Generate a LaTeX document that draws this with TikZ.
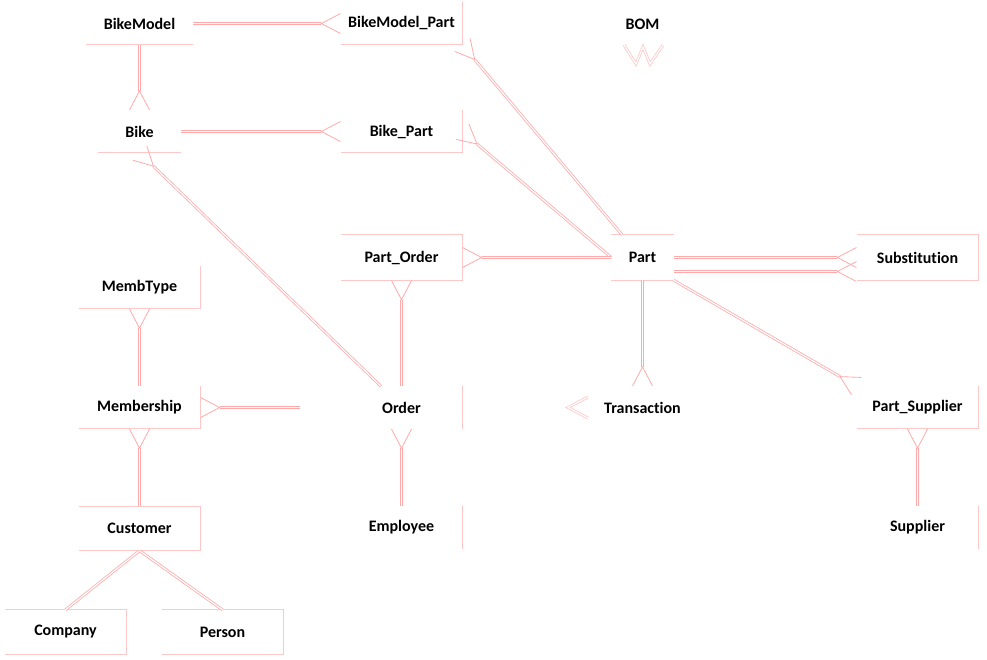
\documentclass[tikz,border=0pt]{standalone}
\usepackage{fontspec}
\setmainfont[Ligatures=NoCommon]{Carlito}
\usetikzlibrary{arrows.meta}
\definecolor{pinkline}{RGB}{255,170,170}
\definecolor{pinkrim}{RGB}{255,200,200}
\tikzset{
  ent/.style={minimum width=121pt, minimum height=42pt, inner sep=0pt,
    font=\bfseries\fontsize{16}{19}\selectfont},
  rim/.style={draw=pinkrim, line width=0.8pt},
  rel/.style={draw=pinkline, double=white, double distance=1.2pt, line width=0.8pt},
  crow/.style={-{Straight Barb[reversed, length=19pt, width=20pt]}}
}

\begin{document}
\begin{tikzpicture}[x=1pt, y=-1pt]
    \useasboundingbox (0,0) rectangle (987,659);
    \node[ent, minimum width=107pt] (BikeModel) at (139.5,23.5) {BikeModel};
    \node[ent] (BikeModelPart) at (401.5,23.5) {BikeModel\_Part};
    \node[ent, minimum width=62pt] (BOM) at (642.5,24) {BOM};
    \node[ent, minimum width=83pt] (Bike) at (139.5,131.5) {Bike};
    \node[ent] (BikePart) at (401.5,131.5) {Bike\_Part};
    \node[ent, minimum height=45pt] (PartOrder) at (401.5,257.5) {Part\_Order};
    \node[ent, minimum width=62pt, minimum height=45pt] (Part) at (642.5,257.5) {Part};
    \node[ent, minimum height=45pt] (Substitution) at (917.5,257.5) {Substitution};
    \node[ent] (MembType) at (139.5,287.5) {MembType};
    \node[ent] (Membership) at (139.5,407.5) {Membership};
    \node[ent] (Order) at (401.5,407.5) {Order};
    \node[ent, minimum width=62pt] (Transaction) at (642.5,407.5) {Transaction};
    \node[ent] (PartSupplier) at (917.5,407.5) {Part\_Supplier};
    \node[ent, minimum height=44pt] (Customer) at (139.5,528.5) {Customer};
    \node[ent] (Employee) at (401.5,527.5) {Employee};
    \node[ent] (Supplier) at (917.5,527.5) {Supplier};
    \node[ent, minimum height=44pt] (Company) at (65.5,632) {Company};
    \node[ent, minimum height=44pt] (Person) at (222.5,632) {Person};
    \coordinate (MembEnd) at (300,407.5);

    \draw[rim] (BikeModel.south west) -- (BikeModel.south east);
    \draw[rim] (BikeModelPart.north east) -- (BikeModelPart.south east) -- (BikeModelPart.south west);
    \draw[rim] (Bike.south west) -- (Bike.south east);
    \draw[rim] (BikePart.north east) -- (BikePart.south east) -- (BikePart.south west);
    \draw[rim] (PartOrder.north west) -- (PartOrder.north east) -- (PartOrder.south east) -- (PartOrder.south west);
    \draw[rim] (Part.north west) -- (Part.north east);
    \draw[rim] (Part.south west) -- (Part.south east);
    \draw[rim] (Substitution.north west) -- (Substitution.north east) -- (Substitution.south east) -- (Substitution.south west);
    \draw[rim] (MembType.north east) -- (MembType.south east) -- (MembType.south west);
    \draw[rim] (Membership.north east) -- (Membership.south east) -- (Membership.south west);
    \draw[rim] (Order.north east) -- (Order.south east);
    \draw[rim] (PartSupplier.north east) -- (PartSupplier.south east) -- (PartSupplier.south west);
    \draw[rim] (Customer.north west) -- (Customer.north east) -- (Customer.south east) -- (Customer.south west);
    \draw[rim] (Employee.north east) -- (Employee.south east);
    \draw[rim] (Supplier.north east) -- (Supplier.south east);
    \draw[rim] (Company.north west) -- (Company.north east) -- (Company.south east) -- (Company.south west);
    \draw[rim] (Person.north west) -- (Person.north east) -- (Person.south east) -- (Person.south west);

    \draw[rel, crow] (BikeModel) -- (BikeModelPart);
    \draw[rel, crow] (BikeModel) -- (Bike);
    \draw[rel, crow] (Bike) -- (BikePart);
    \draw[rel, crow] (Part.132) -- (BikeModelPart.south east);
    \draw[rel, crow] (Part.west) -- (BikePart.east);
    \draw[rel, crow] (Order.134) -- (Bike.south);
    \draw[rel, crow] (Part) -- (PartOrder);
    \draw[rel, crow] (Order) -- (PartOrder);
    \draw[rel, crow] (Employee) -- (Order);
    \draw[rel, crow] (MembEnd) -- (Membership);
    \draw[rel, crow] (Membership) -- (MembType);
    \draw[rel, crow] (Customer) -- (Membership);
    \draw[rel] (Customer.south) -- (Company.north);
    \draw[rel] (Customer.south) -- (Person.north);
    \draw[rel, crow] (Part) -- (Substitution);
    \draw[rel, crow] ([yshift=-14pt]Part.east) -- ([yshift=-14pt]Substitution.west);
    \draw[rel, crow] (Part.south east) -- (PartSupplier.north west);
    \draw[rel, crow] (Part) -- (Transaction);
    \draw[rel, crow] (Supplier) -- (PartSupplier);

    \draw[rel, draw=pinkrim] (624,45) -- (636,64) -- (643,47) -- (650,64) -- (663,45);
    \draw[rel, draw=pinkrim] (588,397) -- (568,407.5) -- (588,418);
  \end{tikzpicture}
\end{document}
